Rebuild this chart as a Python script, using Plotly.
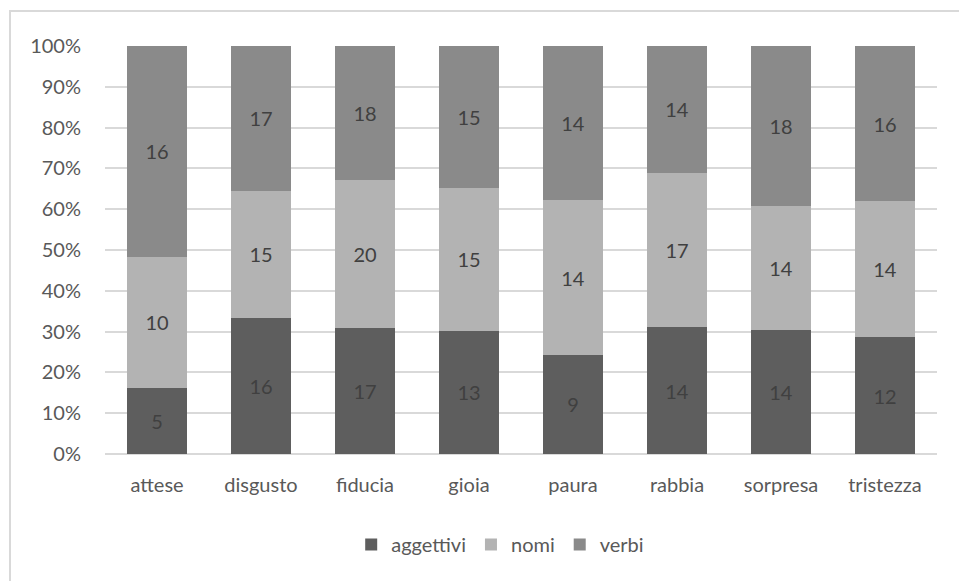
import plotly.graph_objects as go

categories = ["attese", "disgusto", "fiducia", "gioia", "paura", "rabbia", "sorpresa", "tristezza"]
aggettivi = [5, 16, 17, 13, 9, 14, 14, 12]
nomi = [10, 15, 20, 15, 14, 17, 14, 14]
verbi = [16, 17, 18, 15, 14, 14, 18, 16]
y_ticks = [0, 10, 20, 30, 40, 50, 60, 70, 80, 90, 100]

series = [
    ("aggettivi", aggettivi, "#5e5e5e"),
    ("nomi", nomi, "#b3b3b3"),
    ("verbi", verbi, "#8a8a8a"),
]

FONT = "Lato, 'Open Sans', sans-serif"
FS = 20

fig = go.Figure()
for name, vals, color in series:
    fig.add_trace(go.Bar(
        name=name,
        x=categories,
        y=vals,
        text=[str(v) for v in vals],
        textposition="inside",
        insidetextanchor="middle",
        textangle=0,
        textfont=dict(family=FONT, size=FS, color="#404040"),
        marker=dict(color=color, line=dict(width=0)),
        hoverinfo="skip",
    ))

# Plot-area margins in pixels, used to place the outer frame
W, H = 959, 581
ml, mr, mt, mb = 105, 22, 46, 127
pw, ph = W - ml - mr, H - mt - mb

def px_to_paper_x(px):
    return (px - ml) / pw

def px_to_paper_y(py):
    return (H - mb - py) / ph

fig.update_layout(
    width=W, height=H,
    margin=dict(l=ml, r=mr, t=mt, b=mb),
    barmode="stack",
    barnorm="percent",
    bargap=0.42,
    plot_bgcolor="white",
    paper_bgcolor="white",
    font=dict(family=FONT, size=FS, color="#595959"),
    showlegend=True,
    legend=dict(
        orientation="h",
        x=0.475, xanchor="center",
        y=px_to_paper_y(525), yanchor="top",
        font=dict(family=FONT, size=FS, color="#595959"),
        traceorder="normal",
        itemwidth=30,
    ),
    xaxis=dict(
        showgrid=False,
        showline=False,
        ticks="",
        tickfont=dict(family=FONT, size=FS, color="#595959"),
        ticklabelstandoff=17,
    ),
    yaxis=dict(
        range=[0, 100],
        tickvals=y_ticks,
        ticktext=[f"{t}%" for t in y_ticks],
        showgrid=True,
        gridcolor="#d9d9d9",
        gridwidth=2,
        zeroline=True,
        zerolinecolor="#d9d9d9",
        zerolinewidth=2,
        showline=False,
        ticks="",
        ticklabelstandoff=23,
        tickfont=dict(family=FONT, size=FS, color="#595959"),
    ),
    shapes=[dict(
        type="rect",
        xref="paper", yref="paper",
        x0=px_to_paper_x(10), x1=px_to_paper_x(975),
        y0=px_to_paper_y(600), y1=px_to_paper_y(11),
        line=dict(color="#d9d9d9", width=2),
        fillcolor="rgba(0,0,0,0)",
        layer="below",
    )],
)

fig.write_html("out.html")
